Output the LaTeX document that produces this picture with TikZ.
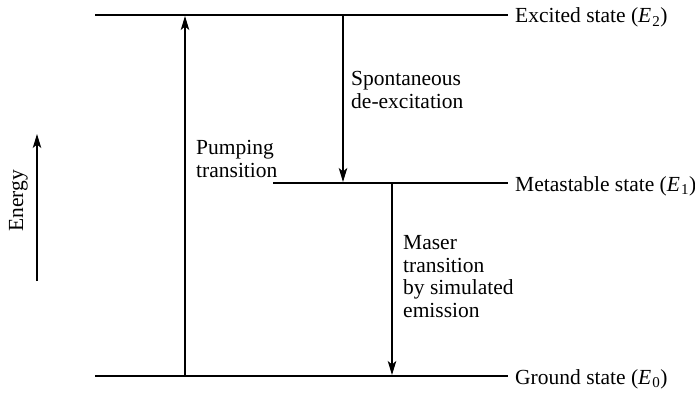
\documentclass[tikz,border=0pt]{standalone}
\usepackage{fontspec}
\setmainfont{Liberation Serif}
\usetikzlibrary{arrows.meta}
\newcommand{\lev}[1]{(\textit{E}\kern0.05em\textsubscript{#1})}
\begin{document}
\begin{tikzpicture}[x=1pt,y=-1pt,
  level/.style={line width=1.9pt},
  trans/.style={line width=1.2pt,-{Stealth[length=14pt,width=8.5pt,inset=3.5pt]}},
  lbl/.style={font=\fontsize{21.5}{22.5}\selectfont,inner sep=0pt},
  txt/.style={font=\fontsize{21.5}{22.5}\selectfont,inner sep=0pt,align=left,anchor=base west}]
\useasboundingbox (0,0) rectangle (695,393);
% level lines
\coordinate (e2l) at (95,15);
\coordinate (e2r) at (508,15);
\coordinate (e1l) at (273,183);
\coordinate (e1r) at (508,183);
\coordinate (e0l) at (95,376);
\coordinate (e0r) at (508,376);
\draw[level] (e2l) -- (e2r);
\draw[level] (e1l) -- (e1r);
\draw[level] (e0l) -- (e0r);
\node[lbl,anchor=base west] (l2) at (515,23) {Excited state \lev{2}};
\node[lbl,anchor=base west] (l1) at (515,191) {Metastable state \lev{1}};
\node[lbl,anchor=base west] (l0) at (515,384) {Ground state \lev{0}};
% transitions
\coordinate (p0) at (185,376);
\coordinate (p1) at (185,16);
\draw[trans] (p0) -- (p1);
\coordinate (s0) at (343,15);
\coordinate (s1) at (343,182);
\draw[trans] (s0) -- (s1);
\coordinate (m0) at (392,183);
\coordinate (m1) at (392,375);
\draw[trans] (m0) -- (m1);
% energy arrow
\coordinate (en0) at (37,281);
\coordinate (en1) at (37,134);
\draw[trans] (en0) -- (en1);
\node[lbl,rotate=90,anchor=base] (energy) at (23,201) {Energy};
% texts (base = last line)
\node[txt] (spont) at (351,108) {Spontaneous\\de-excitation};
\node[txt] (pump) at (196,177) {Pumping\\transition};
\node[txt] (maser) at (403,317) {Maser\\transition\\by simulated\\emission};
\end{tikzpicture}
\end{document}
